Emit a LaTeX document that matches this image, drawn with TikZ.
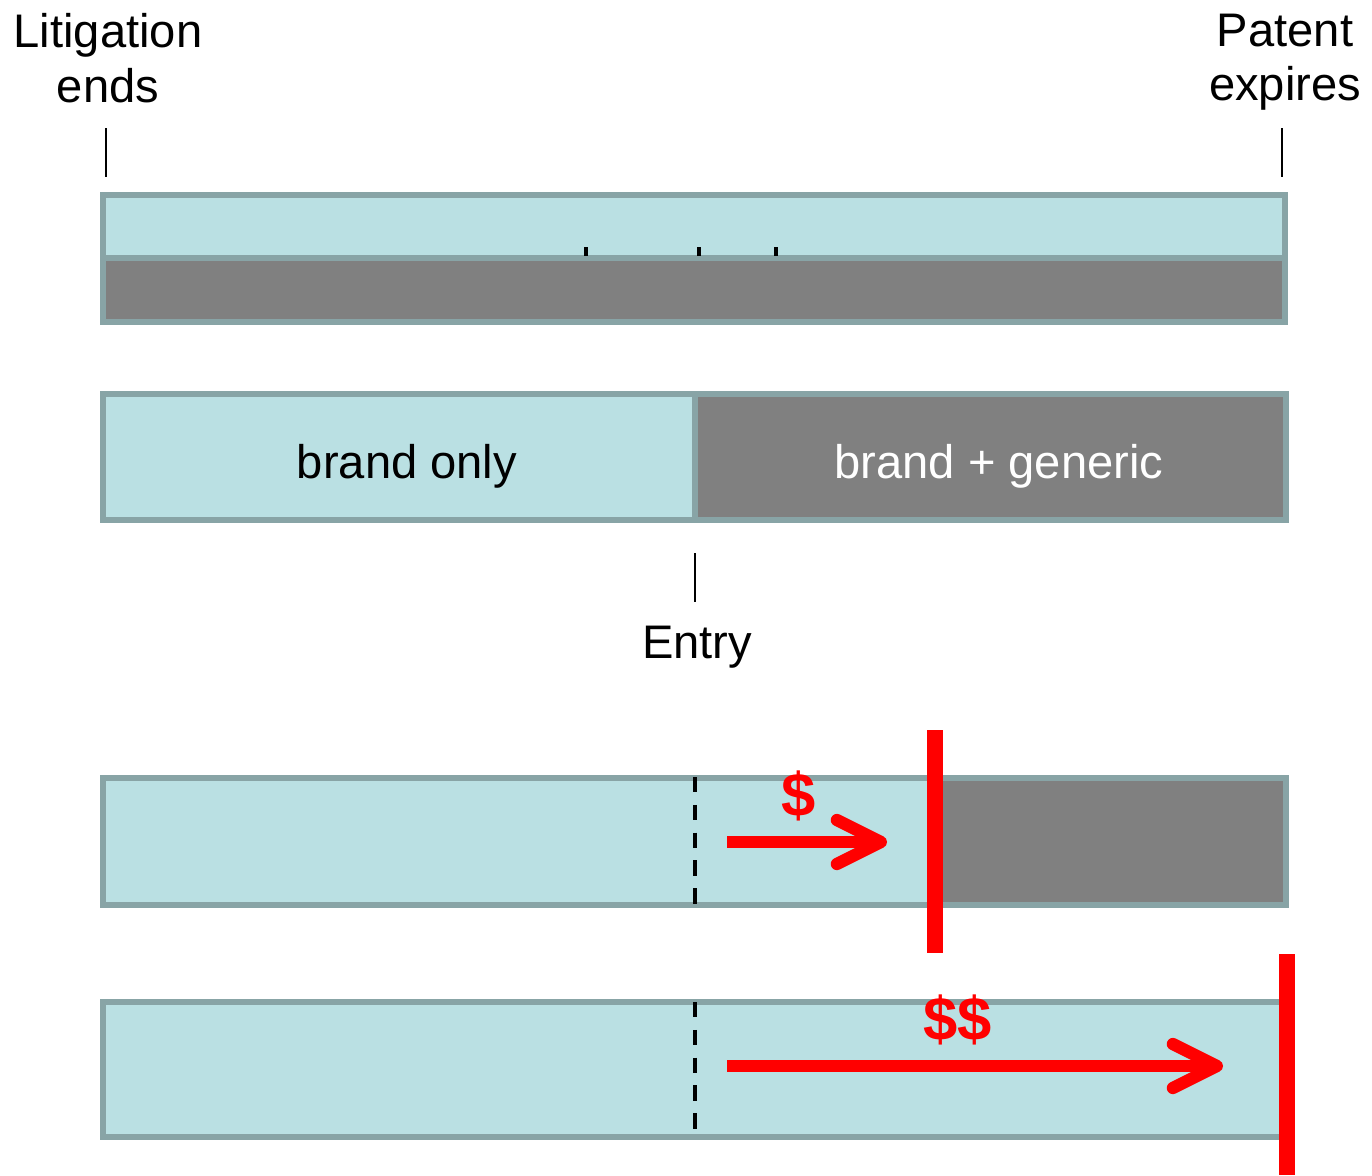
\documentclass[tikz,border=0pt]{standalone}
\usepackage{fontspec}
\setmainfont{Liberation Sans}
\usetikzlibrary{arrows.meta}
\definecolor{barblue}{RGB}{186,224,227}
\definecolor{bargrey}{RGB}{128,128,128}
\definecolor{barrim}{RGB}{136,164,166}
\begin{document}
\begin{tikzpicture}[x=0.01cm, y=-0.01cm,
  font=\fontsize{13.4}{15.4}\selectfont,
  seg/.style={draw=barrim, line width=1.7pt},
  marker/.style={line width=0.6pt},
  money/.style={red, line width=3.5pt, -{Straight Barb[length=12.5pt, width=12.5pt, round]}},
  cutoff/.style={red, line width=4.4pt},
  entryline/.style={line width=1.1pt, dash pattern=on 4.4pt off 3.5pt},
  cash/.style={red, font=\bfseries\fontsize{17.5}{20}\selectfont, inner sep=0}]
  \useasboundingbox (0, 0) rectangle (1372, 1175);
  % labels and markers
  \node[anchor=north, align=center, inner sep=0] (litig) at (108, 13) {Litigation\\ends};
  \node[anchor=north, align=center, inner sep=0] (patent) at (1285, 13) {Patent\\expires};
  \node[anchor=north, inner sep=0] (entry) at (697, 625) {Entry};
  \coordinate (litigtick) at (106, 128);
  \coordinate (patenttick) at (1282, 128);
  \coordinate (entrytick) at (695, 553);
  \draw[marker] (litigtick) -- ++(0, 49);
  \draw[marker] (patenttick) -- ++(0, 49);
  \draw[marker] (entrytick) -- ++(0, 49);
  % first bar
  \filldraw[seg, fill=barblue] (103, 195) rectangle (1285, 258);
  \filldraw[seg, fill=bargrey] (103, 258) rectangle (1285, 322);
  \foreach \x in {586, 699, 776}
    \draw[line width=1.1pt] (\x, 247) -- (\x, 256);
  % second bar
  \filldraw[seg, fill=barblue] (103, 394) rectangle (695, 520);
  \filldraw[seg, fill=bargrey] (695, 394) rectangle (1286, 520);
  \node (brandonly) at (407, 466) {brand only};
  \node[white] (brandgen) at (999, 466) {brand + generic};
  % third bar
  \filldraw[seg, fill=barblue] (103, 778) rectangle (935, 905);
  \filldraw[seg, fill=bargrey] (935, 778) rectangle (1286, 905);
  \coordinate (dash3) at (695, 777);
  \draw[entryline] (dash3) -- ++(0, 128);
  \coordinate (gain1start) at (727, 842);
  \coordinate (gain1end) at (887, 842);
  \draw[money] (gain1start) -- (gain1end);
  \node[cash] (gain1) at (799, 796) {\$};
  \coordinate (cut1) at (935, 730);
  \draw[cutoff] (cut1) -- ++(0, 223);
  % fourth bar
  \filldraw[seg, fill=barblue] (103, 1002) rectangle (1286, 1137);
  \coordinate (dash4) at (695, 1002);
  \draw[entryline] (dash4) -- ++(0, 135);
  \coordinate (gain2start) at (727, 1066);
  \coordinate (gain2end) at (1223, 1066);
  \draw[money] (gain2start) -- (gain2end);
  \node[cash] (gain2) at (958, 1020) {\$\$};
  \coordinate (cut2) at (1287, 954);
  \draw[cutoff] (cut2) -- ++(0, 221);
\end{tikzpicture}
\end{document}
